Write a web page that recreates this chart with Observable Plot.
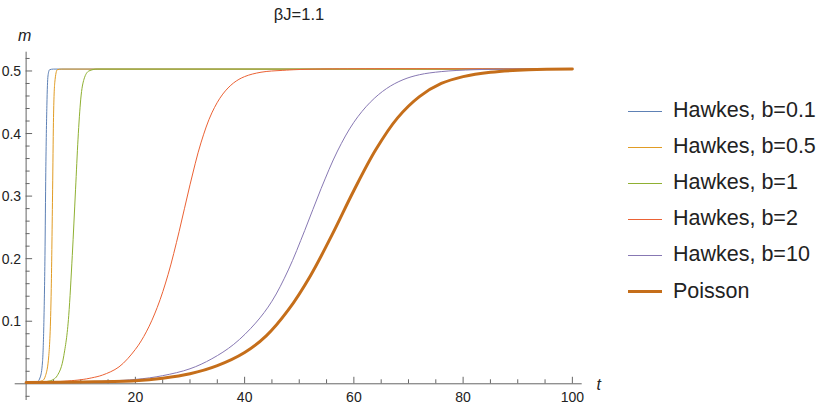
<!DOCTYPE html>
<html><head><meta charset="utf-8">
<script src="https://cdn.jsdelivr.net/npm/d3@7"></script>
<script src="https://cdn.jsdelivr.net/npm/@observablehq/plot@0.6"></script>
<style>
body{margin:0;background:#fff;}
#wrap{position:relative;width:830px;height:406px;font-family:"Liberation Sans",Arial,sans-serif;overflow:hidden;}
#title{position:absolute;left:0;width:598px;top:4px;text-align:center;font-size:16.5px;line-height:20px;color:#222;}
#legend{position:absolute;left:628px;top:93px;}
.row{display:flex;align-items:center;height:36.1px;}
.sw{display:inline-block;width:34px;height:0;margin-right:11px;}
.lb{font-size:21.5px;color:#222;line-height:24px;margin-top:-2px;}
#chart svg{display:block;}
</style></head>
<body>
<div id="wrap">
  <div id="chart"></div>
  <div id="title">βJ=1.1</div>
  <div id="legend"></div>
</div>
<script>
// ---- data ----
const seriesNames = ["Hawkes, b=0.1", "Hawkes, b=0.5", "Hawkes, b=1", "Hawkes, b=2", "Hawkes, b=10", "Poisson"];
const seriesColors = ["#5e81b5", "#e19c24", "#8fb032", "#eb6235", "#8778b3", "#c56e1a"];

const t_b01 = [0, 1, 2, 2.6, 3.0, 3.25, 3.45, 3.6, 3.8, 4.0, 4.3, 5, 100];
const m_b01 = [0.002, 0.002, 0.003, 0.011, 0.035, 0.098, 0.205, 0.338, 0.445, 0.492, 0.502, 0.503, 0.503];

const t_b05 = [0, 2, 3, 3.55, 4.15, 4.6, 4.85, 5.0, 5.25, 5.7, 6.5, 100];
const m_b05 = [0.002, 0.003, 0.005, 0.013, 0.045, 0.152, 0.311, 0.418, 0.482, 0.502, 0.503, 0.503];

const t_b1 = [0, 2, 4, 5, 5.7, 6.9, 7.8, 8.45, 9.05, 9.5, 10, 10.6, 11.5, 13, 100];
const m_b1 = [0.002, 0.002, 0.004, 0.007, 0.013, 0.045, 0.109, 0.205, 0.311, 0.391, 0.455, 0.487, 0.500, 0.503, 0.503];

const t_b2 = [0, 5, 10, 12, 14, 17, 20, 22, 24, 26, 28, 30, 32, 34, 36, 38, 40, 43, 47, 53, 100];
const m_b2 = [0.002, 0.003, 0.0065, 0.0095, 0.014, 0.027, 0.055, 0.083, 0.122, 0.175, 0.243, 0.318, 0.385, 0.433, 0.463, 0.481, 0.491, 0.498, 0.501, 0.503, 0.503];

const t_b10 = [0, 10, 20, 25, 30, 34, 38, 42, 45, 48, 51, 54, 57, 60, 63, 66, 69, 72, 76, 82, 90, 100];
const m_b10 = [0.002, 0.003, 0.007, 0.013, 0.024, 0.040, 0.063, 0.097, 0.132, 0.182, 0.245, 0.312, 0.372, 0.418, 0.450, 0.472, 0.486, 0.494, 0.499, 0.502, 0.503, 0.503];

const t_poisson = [0, 10, 20, 25, 30, 35, 40, 44, 48, 52, 56, 60, 64, 68, 72, 76, 80, 85, 92, 100];
const m_poisson = [0.002, 0.003, 0.005, 0.009, 0.016, 0.029, 0.050, 0.077, 0.118, 0.172, 0.238, 0.309, 0.374, 0.425, 0.459, 0.480, 0.491, 0.498, 0.502, 0.503];

const xMajorTicks = [20, 40, 60, 80, 100];
const xMinorTicks = [5, 10, 15, 25, 30, 35, 45, 50, 55, 65, 70, 75, 85, 90, 95];
const yMajorTicks = [0.1, 0.2, 0.3, 0.4, 0.5];
const yMinorTicks = [-0.02, 0.02, 0.04, 0.06, 0.08, 0.12, 0.14, 0.16, 0.18, 0.22, 0.24, 0.26, 0.28, 0.32, 0.34, 0.36, 0.38, 0.42, 0.44, 0.46, 0.48, 0.52];
const yMajorLabels = ["0.1", "0.2", "0.3", "0.4", "0.5"];

// ---- build ----
const tArrays = [t_b01, t_b05, t_b1, t_b2, t_b10, t_poisson];
const mArrays = [m_b01, m_b05, m_b1, m_b2, m_b10, m_poisson];
const curves = ["monotone-x", "monotone-x", "monotone-x", "catmull-rom", "catmull-rom", "catmull-rom"];
const series = tArrays.map((ts, i) => ts.map((t, j) => ({t, m: mArrays[i][j], s: seriesNames[i]})));

const W = 830, H = 406;
const mL = 14.7, mR = 248.3, mT = 51.7, mB = 6;
const xDom = [-2, 101.8], yDom = [-0.0267, 0.530];
const kx = (W - mL - mR) / (xDom[1] - xDom[0]);
const ky = (H - mT - mB) / (yDom[1] - yDom[0]);
const axisColor = "#666", textColor = "#222";
const majLen = 6.5, minLen = 4;

const lineMarks = series.map((d, i) => Plot.line(d, {
  x: "t", y: "m", curve: curves[i],
  stroke: seriesColors[i],
  strokeWidth: i === 5 ? 3 : 1
}));

const chart = Plot.plot({
  width: W, height: H,
  marginLeft: mL, marginRight: mR, marginTop: mT, marginBottom: mB,
  x: {domain: xDom, axis: null},
  y: {domain: yDom, axis: null},
  style: {fontFamily: "Liberation Sans, Arial, sans-serif", background: "#fff", overflow: "visible"},
  marks: [
    Plot.ruleY([0], {stroke: axisColor, strokeWidth: 1}),
    Plot.ruleX([0], {stroke: axisColor, strokeWidth: 1}),
    Plot.ruleX(xMajorTicks, {x: d => d, y1: 0, y2: majLen / ky, stroke: axisColor}),
    Plot.ruleX(xMinorTicks, {x: d => d, y1: 0, y2: minLen / ky, stroke: axisColor}),
    Plot.ruleY(yMajorTicks, {y: d => d, x1: 0, x2: majLen / kx, stroke: axisColor}),
    Plot.ruleY(yMinorTicks, {y: d => d, x1: 0, x2: minLen / kx, stroke: axisColor}),
    Plot.text(xMajorTicks, {x: d => d, y: 0, text: d => String(d), dy: 14, fontSize: 14, fill: textColor}),
    Plot.text(yMajorTicks, {x: 0, y: d => d, text: (d, i) => yMajorLabels[i], dx: -5, dy: 0.5, textAnchor: "end", fontSize: 14, fill: textColor}),
    Plot.text(["m"], {x: 0, y: yDom[1], text: d => d, dy: -16, dx: -1.5, fontSize: 16, fontStyle: "italic", fill: textColor}),
    Plot.text(["t"], {x: xDom[1], y: 0, text: d => d, dx: 16.5, dy: 1.5, fontSize: 16, fontStyle: "italic", fill: textColor}),
    ...lineMarks
  ]
});
document.getElementById("chart").appendChild(chart);

// legend
const leg = document.getElementById("legend");
seriesNames.forEach((name, i) => {
  const row = document.createElement("div");
  row.className = "row";
  const sw = document.createElement("span");
  sw.className = "sw";
  sw.style.borderTop = (i === 5 ? 3 : 1) + "px solid " + seriesColors[i];
  const lb = document.createElement("span");
  lb.className = "lb";
  lb.textContent = name;
  row.appendChild(sw); row.appendChild(lb);
  leg.appendChild(row);
});
</script>
</body></html>
